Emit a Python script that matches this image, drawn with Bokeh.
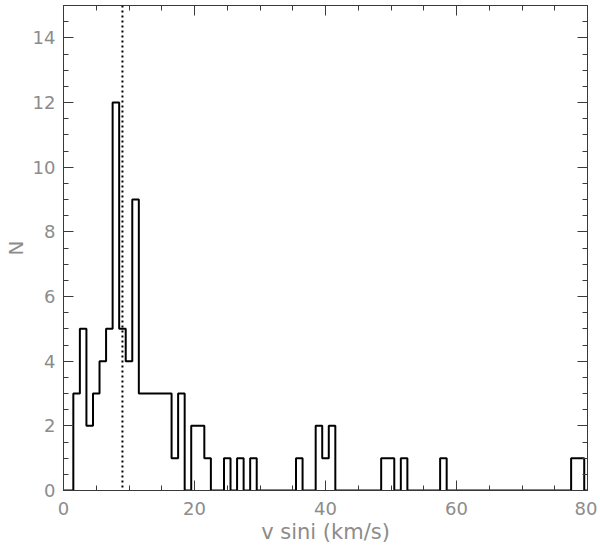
from bokeh.plotting import figure
from bokeh.models import Range1d, FixedTicker, LinearAxis, Span
from bokeh.embed import file_html
from bokeh.resources import INLINE

# bin centres (km/s) and counts per 1 km/s bin
vsini = [0, 1, 2, 3, 4, 5, 6, 7, 8, 9,
         10, 11, 12, 13, 14, 15, 16, 17, 18, 19,
         20, 21, 22, 23, 24, 25, 26, 27, 28, 29,
         30, 31, 32, 33, 34, 35, 36, 37, 38, 39,
         40, 41, 42, 43, 44, 45, 46, 47, 48, 49,
         50, 51, 52, 53, 54, 55, 56, 57, 58, 59,
         60, 61, 62, 63, 64, 65, 66, 67, 68, 69,
         70, 71, 72, 73, 74, 75, 76, 77, 78, 79, 80]
counts = [0, 0, 3, 5, 2, 3, 4, 5, 12, 5,
          4, 9, 3, 3, 3, 3, 3, 1, 3, 0,
          2, 2, 1, 0, 0, 1, 0, 1, 0, 1,
          0, 0, 0, 0, 0, 0, 1, 0, 0, 2,
          1, 2, 0, 0, 0, 0, 0, 0, 0, 1,
          1, 0, 1, 0, 0, 0, 0, 0, 1, 0,
          0, 0, 0, 0, 0, 0, 0, 0, 0, 0,
          0, 0, 0, 0, 0, 0, 0, 0, 1, 1, 0]
marker_x = 9

x_major = [0, 20, 40, 60, 80]
x_minor = [5, 10, 15, 25, 30, 35, 45, 50, 55, 65, 70, 75]
y_major = [0, 2, 4, 6, 8, 10, 12, 14]
y_minor = [0.5, 1, 1.5, 2.5, 3, 3.5, 4.5, 5, 5.5, 6.5, 7, 7.5, 8.5, 9, 9.5,
           10.5, 11, 11.5, 12.5, 13, 13.5, 14.5]

AXIS_COL = "#3a3a3a"
TEXT_COL = "#8c8c8c"
FONT = "DejaVu Sans"

p = figure(output_backend="svg", toolbar_location=None,
           frame_width=524, frame_height=485,
           min_border_left=56, min_border_right=10,
           min_border_top=5, min_border_bottom=50,
           x_range=Range1d(0, 80), y_range=Range1d(0, 15),
           x_axis_label="v sini (km/s)", y_axis_label="N")
p.xgrid.visible = False
p.ygrid.visible = False
p.outline_line_color = AXIS_COL
p.outline_line_width = 1
p.background_fill_color = "white"
p.border_fill_color = "white"


def style_axis(ax, ticks, minor, labels=True):
    ax.ticker = FixedTicker(ticks=ticks, minor_ticks=minor)
    ax.axis_line_color = AXIS_COL
    ax.major_tick_line_color = AXIS_COL
    ax.minor_tick_line_color = AXIS_COL
    ax.major_tick_in = 10
    ax.major_tick_out = 0
    ax.minor_tick_in = 5
    ax.minor_tick_out = 0
    ax.major_label_text_font = FONT
    ax.major_label_text_font_size = "18px"
    ax.major_label_text_color = TEXT_COL if labels else None
    ax.axis_label_text_font = FONT
    ax.axis_label_text_font_size = "20px"
    ax.axis_label_text_font_style = "normal"
    ax.axis_label_text_color = TEXT_COL


style_axis(p.xaxis[0], x_major, x_minor)
style_axis(p.yaxis[0], y_major, y_minor)
p.xaxis[0].major_label_standoff = 11
p.xaxis[0].axis_label_standoff = 2
p.xaxis[0].axis_label_text_font_size = "21px"
p.yaxis[0].major_label_standoff = 8
p.yaxis[0].axis_label_standoff = 2

top = LinearAxis()
style_axis(top, x_major, x_minor, labels=False)
top.major_label_text_font_size = "0px"
top.major_label_standoff = 0
p.add_layout(top, "above")
right = LinearAxis()
style_axis(right, y_major, y_minor, labels=False)
right.major_label_text_font_size = "0px"
right.major_label_standoff = 0
p.add_layout(right, "right")

p.step(x=vsini, y=counts, mode="center", line_color="black", line_width=2)
p.add_layout(Span(location=marker_x, dimension="height", line_color="black",
                  line_width=2, line_dash="2 3"))

open("out.html", "w").write(file_html(p, INLINE))
